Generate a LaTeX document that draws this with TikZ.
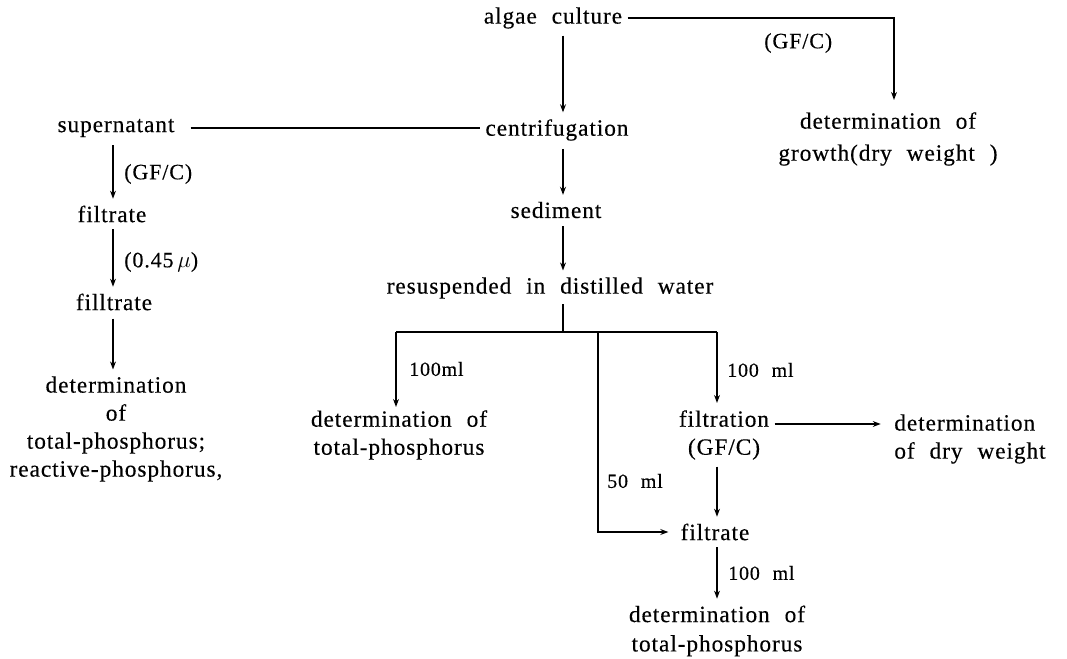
\documentclass[tikz,border=0pt]{standalone}
\usepackage{fontspec}
\usetikzlibrary{arrows.meta}
\newfontfamily\rf[LetterSpace=4,WordSpace=2.2,FakeBold=0.3]{Liberation Serif}
\newcommand{\mainf}{\rf\fontsize{17.5}{21}\selectfont}
\newcommand{\lblf}{\rf\fontsize{16.5}{18}\selectfont}
\newcommand{\mlf}{\rf\fontsize{15}{18}\selectfont}
\tikzset{
  txt/.style={inner sep=0pt, font=\mainf, align=center},
  lbl/.style={inner sep=0pt, font=\lblf, anchor=west},
  mlbl/.style={inner sep=0pt, font=\mlf, anchor=west},
  ln/.style={line width=1pt},
  arr/.style={ln, -{Stealth[length=6pt,width=4.4pt]}}
}
\begin{document}
\begin{tikzpicture}[x=0.75pt,y=-0.75pt]
\useasboundingbox (0,0) rectangle (1067,659);
% coordinates of vertical connector lines
\coordinate (xc) at (563,0);
\coordinate (xl) at (113,0);
\coordinate (xr) at (717,0);
% nodes
\node[txt] (algae) at (553,18) {algae culture};
\node[txt] (centr) at (557,130) {centrifugation};
\node[txt] (sup) at (116,128) {supernatant};
\node[txt] (dgrowth) at (888,139) {determination of\\[3pt]growth(dry weight )};
\node[txt] (sed) at (556,210) {sediment};
\node[txt] (res) at (550,288) {resuspended in distilled water};
\node[txt] (filt1) at (112,214) {filtrate};
\node[txt] (filt2) at (114,302) {filltrate};
\node[txt] (detL) at (116,429) {determination\\of\\total-phosphorus;\\reactive-phosphorus,};
\node[txt] (det2) at (399,435) {determination of\\total-phosphorus};
\node[txt] (filtn) at (724,435) {filtration\\(GF/C)};
\node[txt, align=left] (ddry) at (970,439) {determination\\of dry weight};
\node[txt] (filtrate) at (715,532) {filtrate};
\node[txt] (det3) at (717,631) {determination of\\[1pt]total-phosphorus};
% labels
\node[lbl] (l1) at (764,43) {(GF/C)};
\node[lbl] (l2) at (124,174) {(GF/C)};
\node[lbl] (l3) at (124,262) {(0.45\,$\mu$)};
\node[mlbl] (l4) at (409,369) {100ml};
\node[mlbl] (l5) at (727,370) {100 ml};
\node[mlbl] (l6) at (607,481) {50 ml};
\node[mlbl] (l7) at (728,573) {100 ml};
% junction coordinates
\coordinate (tA) at (894,100);
\coordinate (j) at (563,332);
\coordinate (jL) at (396,332);
\coordinate (tL) at (396,407);
\coordinate (tR) at (717,403);
\coordinate (b50) at (598,332);
% connectors
\draw[arr] ([xshift=4]algae.east) -| (tA);
\draw[arr, shorten <=5pt, shorten >=5pt] (algae.south -| xc) -- (centr.north -| xc);
\draw[ln] ([xshift=12]sup.east) -- ([xshift=-4]centr.west |- sup.east);
\draw[arr, shorten <=6pt, shorten >=5pt] (centr.south -| xc) -- (sed.north -| xc);
\draw[arr, shorten <=6pt, shorten >=5pt] (sed.south -| xc) -- (res.north -| xc);
\draw[ln, shorten <=4pt] (res.south -| xc) -- (j);
\draw[ln] (jL) -- (tR |- j);
\draw[arr] (jL) -- (tL);
\draw[arr] (tR |- j) -- (tR);
\draw[arr] (b50) |- ([xshift=-9]filtrate.west);
\draw[arr, shorten <=5pt, shorten >=5pt] (filtn.south -| xr) -- (filtrate.north -| xr);
\draw[arr, shorten <=5pt, shorten >=5pt] (filtrate.south -| xr) -- (det3.north -| xr);
\draw[arr] ([xshift=4]filtn.east |- 0,424) -- ([xshift=-10]ddry.west |- 0,424);
\draw[arr, shorten <=6pt, shorten >=5pt] (sup.south -| xl) -- (filt1.north -| xl);
\draw[arr, shorten <=5pt, shorten >=5pt] (filt1.south -| xl) -- (filt2.north -| xl);
\draw[arr, shorten <=6pt, shorten >=5pt] (filt2.south -| xl) -- (detL.north -| xl);
\end{tikzpicture}
\end{document}
